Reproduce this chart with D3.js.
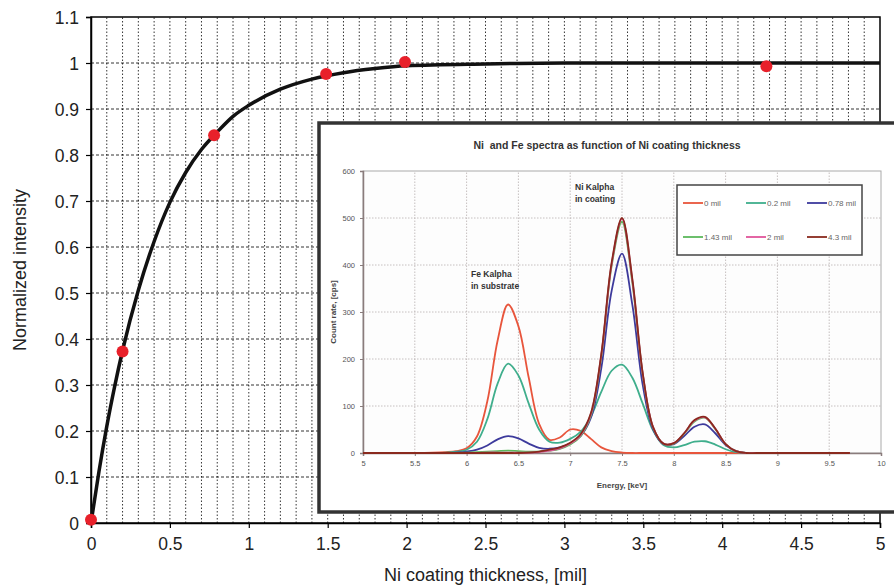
<!DOCTYPE html>
<html><head><meta charset="utf-8">
<script src="https://cdn.jsdelivr.net/npm/d3@7"></script>
<style>
body{margin:0;background:#fff;}
svg{display:block;font-family:"Liberation Sans",Arial,sans-serif;}
text{white-space:pre;}
</style></head>
<body><svg id="c" width="894" height="586"></svg>
<script>
// ---- Main chart data ----
const mainXTicks = [0,0.5,1,1.5,2,2.5,3,3.5,4,4.5,5];
const mainXTickLabels = ["0","0.5","1","1.5","2","2.5","3","3.5","4","4.5","5"];
const mainYTicks = [0,0.1,0.2,0.3,0.4,0.5,0.6,0.7,0.8,0.9,1,1.1];
const mainYTickLabels = ["0","0.1","0.2","0.3","0.4","0.5","0.6","0.7","0.8","0.9","1","1.1"];
const measuredX = [0,0.2,0.78,1.49,1.99,4.28];
const measuredY = [0.007,0.373,0.843,0.976,1.002,0.993];
const fitX = [0,0.05,0.1,0.15,0.2,0.3,0.4,0.5,0.6,0.7,0.8,0.9,1.0,1.2,1.4,1.6,1.8,2.0,2.5,3,4,5];
const fitY = [0,0.111,0.21,0.297,0.375,0.506,0.612,0.697,0.762,0.812,0.85,0.884,0.908,0.943,0.965,0.979,0.988,0.994,0.998,1,1,1];

// ---- Inset data ----
const energy = [5.0,5.5,5.8,5.9,6.0,6.1,6.2,6.3,6.4,6.5,6.6,6.7,6.8,6.9,7.0,7.1,7.2,7.3,7.4,7.5,7.6,7.7,7.8,7.9,8.0,8.1,8.2,8.3,8.4,8.5,8.6,8.7,8.8,9.0,9.7];
const seriesNames = ["0 mil","0.2 mil","0.78 mil","1.43 mil","2 mil","4.3 mil"];
const s0   = [0,0,2,4,10, 35,110,240,316,270,160,62,28,33, 50,47,30,12,4,1,0,0,0,0, 0,0,0,0,0,0,0,0,0, 0,0];
const s02  = [0,0,1,3,7, 24,72,148,190,165,105,50,24,22, 30,45,78,130,175,188,160,105,48,17, 12,17,24,25,18,8,2,0,0, 0,0];
const s078 = [0,0,0,1,3, 7,16,29,36,31,20,11,9,12, 20,36,75,180,345,424,315,145,50,19, 19,36,56,61,42,17,4,0,0, 0,0];
const s143 = [0,0,0,0,1, 2,3,4,5,4,3,3,5,9, 18,36,80,205,398,492,362,167,54,20, 20,41,67,75,51,19,4,0,0, 0,0];
const s2   = [0,0,0,0,0, 0,1,1,1,1,1,2,5,10, 20,38,83,208,402,498,367,169,55,20, 21,42,69,76,52,19,4,0,0, 0,0];
const s43  = [0,0,0,0,0, 0,0,0,0,0,1,3,7,12, 22,40,85,210,405,500,370,170,55,20, 21,42,70,77,52,19,4,0,0, 0,0];
const seriesColors = ["#e8553c","#3fae8c","#3d3a9c","#5cb85c","#e0559a","#8a2a1e"];
const insetXTicks = [5,5.5,6,6.5,7,7.5,8,8.5,9,9.5,10];
const insetXTickLabels = ["5","5.5","6","6.5","7","7.5","8","8.5","9","9.5","10"];
const insetYTicks = [0,100,200,300,400,500,600];
const insetYTickLabels = ["0","100","200","300","400","500","600"];

const svg = d3.select("#c");

// ---- Main chart ----
const x = d3.scaleLinear().domain([0,5]).range([91,880]);
const y = d3.scaleLinear().domain([0,1.1]).range([523,17]);

const grid = svg.append("g");
d3.range(1,50).forEach(i=>{
  const v=i/10;
  grid.append("line").attr("x1",x(v)).attr("x2",x(v)).attr("y1",y(0)).attr("y2",y(1.1))
    .attr("stroke","#000").attr("stroke-width",0.8).attr("stroke-dasharray","1.5,2");
});
d3.range(1,11).forEach(i=>{
  const v=i/10;
  grid.append("line").attr("x1",x(0)).attr("x2",x(5)).attr("y1",y(v)).attr("y2",y(v))
    .attr("stroke","#000").attr("stroke-width",0.8).attr("stroke-dasharray","3,2");
});
svg.append("rect").attr("x",x(0)).attr("y",y(1.1)).attr("width",x(5)-x(0)).attr("height",y(0)-y(1.1))
  .attr("fill","none").attr("stroke","#000").attr("stroke-width",1.5);

const xAxis = svg.append("g").attr("transform",`translate(0,${y(0)})`)
  .call(d3.axisBottom(x).tickValues(mainXTicks).tickFormat((d,i)=>mainXTickLabels[i]).tickSize(5).tickPadding(6));
const yAxis = svg.append("g").attr("transform",`translate(${x(0)},0)`)
  .call(d3.axisLeft(y).tickValues(mainYTicks).tickFormat((d,i)=>mainYTickLabels[i]).tickSize(5).tickPadding(7));
[xAxis,yAxis].forEach(a=>{
  a.select(".domain").attr("stroke","#000").attr("stroke-width",1.5);
  a.selectAll(".tick line").attr("stroke","#000").attr("stroke-width",1.2);
  a.selectAll(".tick text").attr("font-size",17.5).attr("fill","#222").attr("font-family","'Liberation Sans',Arial,sans-serif");
});
xAxis.selectAll(".tick text").attr("dy","0.9em");
yAxis.selectAll(".tick text").attr("dy","0.36em");

svg.append("text").attr("x",(x(0)+x(5))/2).attr("y",581).attr("text-anchor","middle")
  .attr("font-size",18).attr("fill","#222").text("Ni coating thickness, [mil]");
svg.append("text").attr("transform",`translate(26,${(y(0)+y(1.1))/2}) rotate(-90)`).attr("text-anchor","middle")
  .attr("font-size",18).attr("fill","#222").text("Normalized intensity");

const fitLine = d3.line().x(d=>x(d[0])).y(d=>y(d[1])).curve(d3.curveMonotoneX);
svg.append("path").datum(fitX.map((v,i)=>[v,fitY[i]])).attr("d",fitLine)
  .attr("fill","none").attr("stroke","#111").attr("stroke-width",3.5);
svg.append("g").selectAll("circle").data(measuredX.map((v,i)=>[v,measuredY[i]])).join("circle")
  .attr("cx",d=>x(d[0])).attr("cy",d=>y(d[1])).attr("r",6).attr("fill","#e8202a");

// ---- Inset ----
const inset = svg.append("g");
inset.append("rect").attr("x",319).attr("y",123).attr("width",600).attr("height",389)
  .attr("fill","#fff").attr("stroke","#333").attr("stroke-width",3.5);

const ix = d3.scaleLinear().domain([5,10]).range([363,881]);
const iy = d3.scaleLinear().domain([0,600]).range([453,171]);

inset.append("text").attr("x",607).attr("y",149).attr("text-anchor","middle")
  .attr("font-size",10.5).attr("font-weight","bold").attr("fill","#333")
  .text("Ni  and Fe spectra as function of Ni coating thickness");

inset.append("rect").attr("x",ix(5)).attr("y",iy(600)).attr("width",ix(10)-ix(5)).attr("height",iy(0)-iy(600))
  .attr("fill","#fdfdfd").attr("stroke","#aaa").attr("stroke-width",1);
insetXTicks.slice(1,-1).forEach(v=>{
  inset.append("line").attr("x1",ix(v)).attr("x2",ix(v)).attr("y1",iy(0)).attr("y2",iy(600))
    .attr("stroke","#b8b0b0").attr("stroke-width",0.8).attr("stroke-dasharray","1.5,1.5");
});
insetYTicks.slice(1,-1).forEach(v=>{
  inset.append("line").attr("x1",ix(5)).attr("x2",ix(10)).attr("y1",iy(v)).attr("y2",iy(v))
    .attr("stroke","#b8b0b0").attr("stroke-width",0.8).attr("stroke-dasharray","1.5,1.5");
});
const ixAxis = inset.append("g").attr("transform",`translate(0,${iy(0)})`)
  .call(d3.axisBottom(ix).tickValues(insetXTicks).tickFormat((d,i)=>insetXTickLabels[i]).tickSize(3).tickPadding(5));
const iyAxis = inset.append("g").attr("transform",`translate(${ix(5)},0)`)
  .call(d3.axisLeft(iy).tickValues(insetYTicks).tickFormat((d,i)=>insetYTickLabels[i]).tickSize(3).tickPadding(5));
[ixAxis,iyAxis].forEach(a=>{
  a.select(".domain").attr("stroke","#8a7c7c").attr("stroke-width",1.5);
  a.selectAll(".tick line").attr("stroke","#8a7c7c");
  a.selectAll(".tick text").attr("font-size",7.5).attr("fill","#555").attr("font-family","'Liberation Sans',Arial,sans-serif");
});
inset.append("text").attr("x",622).attr("y",488).attr("text-anchor","middle")
  .attr("font-size",8).attr("font-weight","bold").attr("fill","#444").text("Energy, [keV]");
inset.append("text").attr("transform",`translate(336,312) rotate(-90)`).attr("text-anchor","middle")
  .attr("font-size",8).attr("font-weight","bold").attr("fill","#444").text("Count rate, [cps]");

const allSeries = [s0,s02,s078,s143,s2,s43];
const sLine = d3.line().x(d=>ix(d[0])).y(d=>iy(Math.max(0,d[1]))).curve(d3.curveCatmullRom.alpha(0.5));
allSeries.forEach((s,k)=>{
  inset.append("path").datum(energy.map((e,i)=>[e,s[i]])).attr("d",sLine)
    .attr("fill","none").attr("stroke",seriesColors[k]).attr("stroke-width",1.8)
    .attr("stroke-linejoin","round");
});

// annotations
const ann = [["Ni Kalpha",575,190],["in coating",575,202],["Fe Kalpha",471,277],["in substrate",471,289]];
ann.forEach(a=>inset.append("text").attr("x",a[1]).attr("y",a[2]).attr("font-size",8.5)
  .attr("font-weight","bold").attr("fill","#333").text(a[0]));

// legend
const lg = inset.append("g");
lg.append("rect").attr("x",677).attr("y",185).attr("width",185).attr("height",70)
  .attr("fill","#fff").attr("stroke","#444").attr("stroke-width",1.5);
const colX = [683,746,807], rowY = [203,237];
seriesNames.forEach((n,k)=>{
  const cx = colX[k%3], cy = rowY[Math.floor(k/3)];
  lg.append("line").attr("x1",cx).attr("x2",cx+20).attr("y1",cy).attr("y2",cy)
    .attr("stroke",seriesColors[k]).attr("stroke-width",1.8);
  lg.append("text").attr("x",cx+21).attr("y",cy+3).attr("font-size",8).attr("fill","#666").text(n);
});
</script></body></html>
